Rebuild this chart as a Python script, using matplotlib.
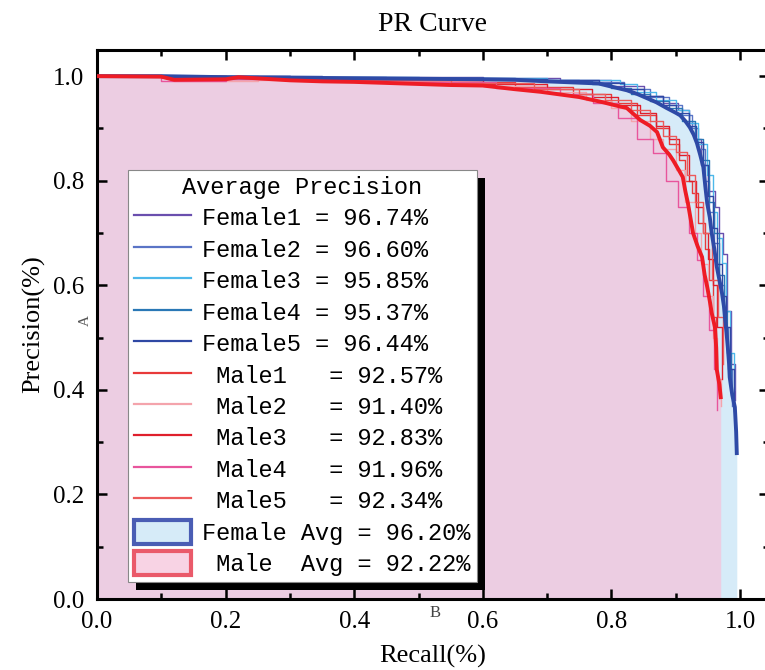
import matplotlib
matplotlib.use("Agg")
import matplotlib.pyplot as plt
from matplotlib.lines import Line2D
from matplotlib.patches import Patch, Rectangle
from matplotlib.ticker import MultipleLocator

# ---------------- data ----------------
female_avg_r = [0, 0.1, 0.2, 0.3, 0.4, 0.5, 0.6, 0.65, 0.7, 0.74, 0.78, 0.8, 0.824, 0.84, 0.855, 0.87,
                0.886, 0.9, 0.907, 0.915, 0.922, 0.928, 0.933, 0.938, 0.943, 0.946, 0.949, 0.953, 0.956,
                0.96, 0.964, 0.968, 0.972, 0.975, 0.977, 0.979, 0.981, 0.983, 0.984, 0.988, 0.992, 0.994, 0.995]
female_avg_p = [1.0, 1.0, 0.998, 0.997, 0.996, 0.995, 0.994, 0.993, 0.99, 0.988, 0.986, 0.98, 0.973, 0.966,
                0.958, 0.95, 0.939, 0.93, 0.925, 0.914, 0.902, 0.888, 0.872, 0.85, 0.826, 0.79, 0.757, 0.73,
                0.70, 0.67, 0.635, 0.61, 0.585, 0.56, 0.533, 0.51, 0.482, 0.45, 0.424, 0.39, 0.367, 0.32, 0.279]

male_avg_r = [0, 0.1, 0.12, 0.2, 0.22, 0.3, 0.35, 0.4, 0.45, 0.5, 0.55, 0.6, 0.65, 0.69, 0.72, 0.75, 0.787,
              0.81, 0.824, 0.845, 0.86, 0.871, 0.88, 0.89, 0.896, 0.905, 0.911, 0.915, 0.919, 0.927, 0.934,
              0.941, 0.945, 0.949, 0.953, 0.956, 0.961, 0.963, 0.964, 0.968, 0.970]
male_avg_p = [1.0, 0.999, 0.993, 0.994, 0.998, 0.992, 0.99, 0.989, 0.987, 0.985, 0.983, 0.982, 0.975, 0.97,
              0.965, 0.96, 0.95, 0.943, 0.939, 0.916, 0.905, 0.893, 0.864, 0.85, 0.839, 0.82, 0.807, 0.78,
              0.757, 0.70, 0.675, 0.654, 0.62, 0.597, 0.57, 0.547, 0.52, 0.48, 0.438, 0.41, 0.386]

female1_r = [0, 0.3, 0.6, 0.72, 0.8, 0.85, 0.88, 0.904, 0.92, 0.93, 0.94, 0.95, 0.961, 0.968, 0.974, 0.98, 0.986, 0.992]
female1_p = [1.0, 0.998, 0.996, 0.992, 0.982, 0.962, 0.948, 0.935, 0.91, 0.88, 0.83, 0.78, 0.75, 0.70, 0.66, 0.55, 0.45, 0.38]
female2_r = [0, 0.2, 0.45, 0.65, 0.75, 0.82, 0.86, 0.89, 0.91, 0.925, 0.935, 0.945, 0.952, 0.96, 0.968, 0.975, 0.982, 0.988]
female2_p = [1.0, 0.999, 0.997, 0.993, 0.988, 0.975, 0.96, 0.945, 0.925, 0.9, 0.86, 0.8, 0.74, 0.68, 0.6, 0.52, 0.44, 0.37]
female3_r = [0, 0.25, 0.5, 0.7, 0.78, 0.813, 0.84, 0.87, 0.9, 0.92, 0.935, 0.949, 0.958, 0.965, 0.972, 0.978, 0.984, 0.99]
female3_p = [1.0, 0.998, 0.996, 0.992, 0.992, 0.985, 0.97, 0.955, 0.935, 0.91, 0.87, 0.81, 0.74, 0.69, 0.643, 0.55, 0.47, 0.40]
female4_r = [0, 0.3, 0.55, 0.7, 0.77, 0.8, 0.83, 0.86, 0.89, 0.91, 0.93, 0.942, 0.952, 0.96, 0.968, 0.975, 0.98, 0.986]
female4_p = [1.0, 0.997, 0.995, 0.99, 0.985, 0.978, 0.965, 0.952, 0.94, 0.915, 0.88, 0.84, 0.76, 0.7, 0.62, 0.55, 0.47, 0.40]
female5_r = [0, 0.35, 0.6, 0.7, 0.78, 0.82, 0.85, 0.88, 0.9, 0.92, 0.932, 0.942, 0.95, 0.958, 0.965, 0.972, 0.978, 0.984, 0.99]
female5_p = [1.0, 0.997, 0.995, 0.992, 0.987, 0.975, 0.962, 0.945, 0.93, 0.905, 0.875, 0.83, 0.77, 0.71, 0.64, 0.58, 0.52, 0.44, 0.36]

male1_r = [0, 0.15, 0.3, 0.5, 0.65, 0.74, 0.8, 0.84, 0.87, 0.89, 0.905, 0.915, 0.925, 0.935, 0.945, 0.952, 0.958, 0.963]
male1_p = [1.0, 0.995, 0.993, 0.988, 0.98, 0.965, 0.948, 0.925, 0.9, 0.87, 0.84, 0.8, 0.776, 0.72, 0.67, 0.61, 0.54, 0.45]
male2_r = [0, 0.12, 0.25, 0.42, 0.6, 0.7, 0.76, 0.8, 0.83, 0.86, 0.88, 0.9, 0.915, 0.93, 0.94, 0.95, 0.958, 0.965, 0.97]
male2_p = [1.0, 0.99, 0.993, 0.99, 0.982, 0.97, 0.955, 0.94, 0.915, 0.88, 0.86, 0.82, 0.76, 0.7, 0.64, 0.58, 0.5, 0.42, 0.37]
male3_r = [0, 0.2, 0.4, 0.6, 0.7, 0.77, 0.81, 0.845, 0.87, 0.89, 0.905, 0.92, 0.932, 0.942, 0.95, 0.958, 0.965, 0.972]
male3_p = [1.0, 0.996, 0.992, 0.985, 0.975, 0.96, 0.945, 0.93, 0.905, 0.88, 0.85, 0.8, 0.75, 0.7, 0.65, 0.6, 0.52, 0.42]
male4_r = [0, 0.1, 0.2, 0.45, 0.62, 0.72, 0.772, 0.81, 0.84, 0.865, 0.885, 0.904, 0.92, 0.933, 0.943, 0.952, 0.96, 0.964]
male4_p = [1.0, 0.99, 0.995, 0.988, 0.978, 0.965, 0.948, 0.92, 0.88, 0.853, 0.8, 0.75, 0.7, 0.648, 0.58, 0.514, 0.44, 0.361]
male5_r = [0, 0.2, 0.35, 0.55, 0.68, 0.75, 0.79, 0.83, 0.86, 0.88, 0.9, 0.918, 0.93, 0.942, 0.956, 0.966, 0.974]
male5_p = [1.0, 0.996, 0.992, 0.987, 0.976, 0.965, 0.955, 0.935, 0.915, 0.885, 0.855, 0.81, 0.76, 0.7, 0.61, 0.54, 0.45]

series_names = ["Female1", "Female2", "Female3", "Female4", "Female5",
                "Male1", "Male2", "Male3", "Male4", "Male5"]
series_ap = [96.74, 96.60, 95.85, 95.37, 96.44, 92.57, 91.40, 92.83, 91.96, 92.34]
female_avg_ap = 96.20
male_avg_ap = 92.22

x_ticks = [0.0, 0.2, 0.4, 0.6, 0.8, 1.0]
y_ticks = [0.0, 0.2, 0.4, 0.6, 0.8, 1.0]

# ---------------- style ----------------
series_colors = ["#6a4fae", "#5a74c6", "#4db8ea", "#2a78b6", "#2f48a4",
                 "#e83a3a", "#f4a4ac", "#df1f2c", "#e8559c", "#ec5a5a"]
series_r = [female1_r, female2_r, female3_r, female4_r, female5_r,
            male1_r, male2_r, male3_r, male4_r, male5_r]
series_p = [female1_p, female2_p, female3_p, female4_p, female5_p,
            male1_p, male2_p, male3_p, male4_p, male5_p]

serif = "Liberation Serif"
mono = "Liberation Mono"

fig = plt.figure(figsize=(7.65, 6.70), dpi=100)
ax = fig.add_axes([97 / 765, 1 - 599 / 670, (769 - 97) / 765, (599 - 50) / 670])

ax.fill_between(female_avg_r, female_avg_p, 0, color="#d6ebf8", lw=0, zorder=1)
ax.fill_between(male_avg_r, male_avg_p, 0, color="#eccde2", lw=0, zorder=1.1)

for r, p, c in zip(series_r, series_p, series_colors):
    ax.plot(r, p, color=c, lw=1.0, drawstyle="steps-post", zorder=2)

ax.plot(female_avg_r, female_avg_p, color="#2e4aa6", lw=2.8, zorder=3)
ax.plot(male_avg_r, male_avg_p, color="#ee1c25", lw=2.8, zorder=3.1)

ax.set_xlim(0, (769 - 97) / 643)
ax.set_ylim(0, 1.05)
ax.set_xticks(x_ticks)
ax.set_yticks(y_ticks)
ax.xaxis.set_minor_locator(MultipleLocator(0.1))
ax.yaxis.set_minor_locator(MultipleLocator(0.1))
ax.tick_params(which="both", direction="in", top=True, right=True, width=1.8, color="black")
ax.tick_params(which="major", length=7, pad=9)
ax.tick_params(which="minor", length=4)
ax.set_xticklabels([f"{v:.1f}" for v in x_ticks], fontfamily=serif, fontsize=18)
ax.set_yticklabels([f"{v:.1f}" for v in y_ticks], fontfamily=serif, fontsize=18)
for s in ax.spines.values():
    s.set_linewidth(2.2)

ax.set_xlabel("Recall(%)", fontfamily=serif, fontsize=19, labelpad=8)
ax.set_ylabel("Precision(%)", fontfamily=serif, fontsize=19, labelpad=6)
ax.set_title("PR Curve", fontfamily=serif, fontsize=20, pad=14)

fig.text(85 / 765, 1 - 320 / 670, "A", rotation=90, fontfamily=serif, fontsize=11,
         color="#555555", ha="center", va="center")
fig.text(435 / 765, 1 - 613 / 670, "B", fontfamily=serif, fontsize=12,
         color="#444444", ha="center", va="center")

# legend
handles = [Line2D([], [], color=c, lw=1.6) for c in series_colors]
labels = []
for n, v in zip(series_names, series_ap):
    if n.startswith("Male"):
        labels.append(f" {n}   = {v:.2f}%")
    else:
        labels.append(f"{n} = {v:.2f}%")
handles.append(Patch(facecolor="#d6ebf8", edgecolor="#4a5db4", lw=3))
handles.append(Patch(facecolor="#f8d3e4", edgecolor="#ea5a6a", lw=3))
labels.append(f"Female Avg = {female_avg_ap:.2f}%")
labels.append(f" Male  Avg = {male_avg_ap:.2f}%")

leg = ax.legend(handles, labels, title="Average Precision",
                loc="upper left", bbox_to_anchor=((128 - 97) / 672, (599 - 170) / 549),
                borderaxespad=0, fancybox=False, framealpha=1, edgecolor="#888888",
                prop={"family": mono, "size": 17}, title_fontproperties={"family": mono, "size": 17},
                handlelength=2.4, handleheight=1.2, labelspacing=0.27, handletextpad=0.5,
                borderpad=0.25)
leg.set_zorder(5)
leg.get_frame().set_linewidth(0.8)

fig.canvas.draw()
bb = leg.get_window_extent()
inv = ax.transAxes.inverted()
(x0, y0), (x1, y1) = inv.transform([(bb.x0 + 8, bb.y0 - 8), (bb.x1 + 8, bb.y1 - 8)])
ax.add_patch(Rectangle((x0, y0), x1 - x0, y1 - y0, transform=ax.transAxes,
                       facecolor="black", edgecolor="none", zorder=4.9, clip_on=False))

fig.savefig("out.png", dpi=100)
